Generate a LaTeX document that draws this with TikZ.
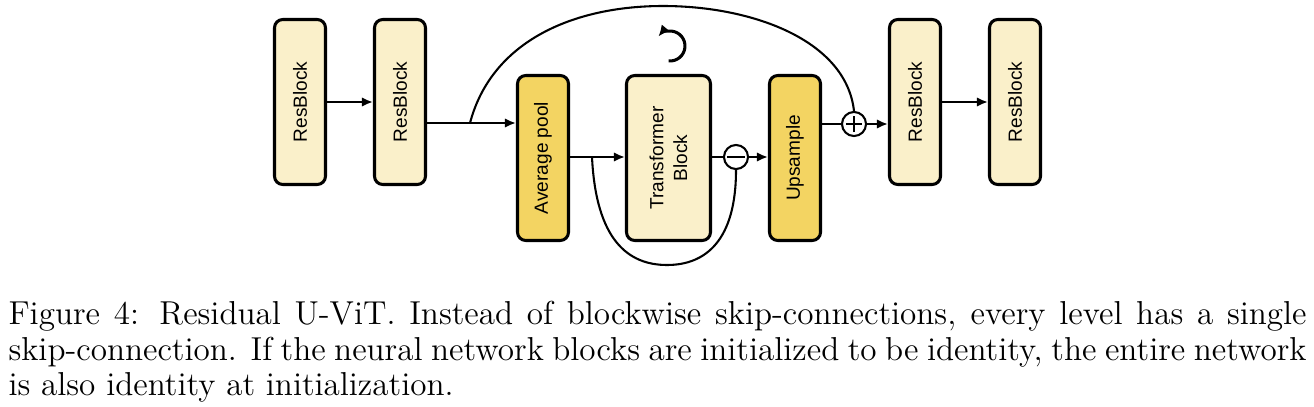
\documentclass[tikz,border=0pt]{standalone}
\usepackage{fontspec}
\newfontfamily\diagfont{Liberation Sans}
\usetikzlibrary{arrows.meta,calc}
\definecolor{lightY}{RGB}{250,240,202}
\definecolor{darkY}{RGB}{243,212,98}
\begin{document}
\begin{tikzpicture}[x=0.3619pt,y=-0.3619pt,
  blk/.style={draw, line width=1.1pt, rounded corners=3pt, rotate=90,
    minimum width=59.7pt, minimum height=18.46pt, inner sep=0pt,
    font=\diagfont\fontsize{6.9}{8.6}\selectfont, align=center},
  light/.style={blk, fill=lightY},
  dark/.style={blk, fill=darkY},
  wide/.style={minimum height=30.4pt},
  op/.style={draw, circle, line width=0.75pt, fill=white, minimum size=8.7pt, inner sep=0pt},
  ln/.style={line width=0.75pt},
  arr/.style={ln, -{Latex[length=4pt,width=3.4pt]}}]
\useasboundingbox (0,0) rectangle (1314,406);
\node[light] (rb1) at (300,102) {ResBlock};
\node[light] (rb2) at (400,102) {ResBlock};
\node[dark] (ap) at (543,158) {Average pool};
\node[light,wide] (tb) at (668.5,158) {Transformer\\Block};
\node[dark] (up) at (795,158) {Upsample};
\node[light] (rb3) at (915,102) {ResBlock};
\node[light] (rb4) at (1015,102) {ResBlock};
\node[op] (plus) at (854,124) {};
\node[op] (minus) at (736,157) {};
\draw[ln] ([xshift=-2.9pt]plus.center) -- ([xshift=2.9pt]plus.center)
          ([yshift=-2.9pt]plus.center) -- ([yshift=2.9pt]plus.center);
\draw[ln] ([xshift=-3.1pt]minus.center) -- ([xshift=3.1pt]minus.center);
\coordinate (j1) at (470,123);
\coordinate (j2) at (592,157);
\coordinate (lc) at (670,46);
\draw[arr] (rb1) -- (rb2);
\draw[arr] (rb2.south |- j1) -- (ap.north |- j1);
\draw[ln] (j1) .. controls (492,40) and (575,6) .. (663,6) .. controls (752,6) and (846,40) .. (plus.north);
\draw[arr] (ap.south |- j2) -- (tb.north |- j2);
\draw[ln] (tb.south |- minus) -- (minus.west);
\draw[arr] (minus.east) -- (up.north |- minus);
\draw[ln] (up.south |- plus) -- (plus.west);
\draw[arr] (plus.east) -- (rb3.north |- plus);
\draw[arr] (rb3) -- (rb4);
\draw[ln] (j2) .. controls (596,240) and (628,265) .. (667,265) .. controls (706,265) and (736,240) .. (minus.south);
\draw[line width=1.1pt, -{Latex[length=4pt,width=3.8pt]}] ($(lc)+(95:15)$) arc[start angle=95, end angle=-140, radius=15];
\node[anchor=north west, inner sep=0pt, text width=469.75pt, align=justify,
  font=\fontsize{12}{12.8}\selectfont] (cap) at (8,301)
  {Figure 4: Residual U-ViT. Instead of blockwise skip-connections, every level has a single\linebreak skip-connection. If the neural network blocks are initialized to be identity, the entire network\linebreak is also identity at initialization.};
\end{tikzpicture}
\end{document}
